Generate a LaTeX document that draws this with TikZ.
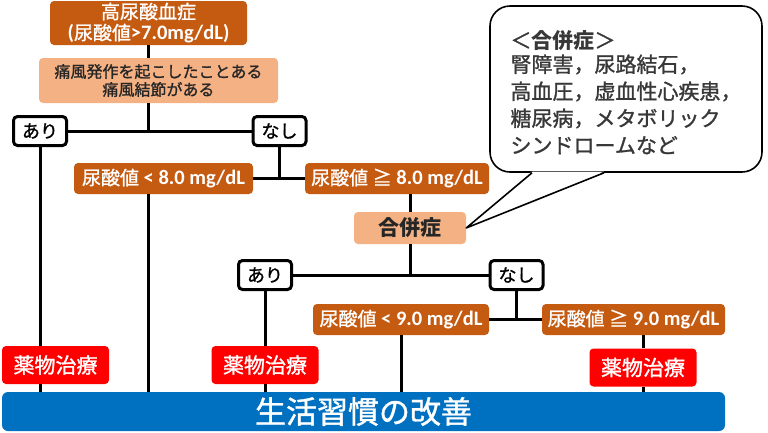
\documentclass[tikz,border=0pt]{standalone}
\usepackage{fontspec}
\setmainfont{Noto Sans CJK JP}
\newfontfamily\semi{Noto Sans CJK JP}[FakeBold=1.2]
\newfontfamily\lat{Carlito}[Scale=1.08]
\definecolor{uricdark}{HTML}{C55A11}
\definecolor{uriclight}{HTML}{F4B183}
\definecolor{medred}{HTML}{FF0000}
\definecolor{lifeblue}{HTML}{0070C0}

\begin{document}
\begin{tikzpicture}[x=1pt,y=-1pt]
	\tikzstyle{every node}=[font=\fontsize{19}{21}\selectfont\semi, inner sep=0pt, align=center, rounded corners=4pt]
	\tikzstyle{darkbox}=[fill=uricdark, text=white, minimum height=31pt]
	\tikzstyle{lightbox}=[fill=uriclight, text=black!85]
	\tikzstyle{yesno}=[draw, line width=3pt, fill=white, minimum width=53pt, minimum height=29pt, font=\fontsize{18}{20}\selectfont\semi]
	\tikzstyle{medbox}=[fill=medred, text=white, minimum width=107pt, minimum height=38pt, font=\fontsize{21}{23}\selectfont\semi]
	\tikzstyle{wire}=[line width=3pt]
	\useasboundingbox (0,0) rectangle (768,432); % the whole picture, y runs downwards

	% first question
	\node[darkbox, minimum width=197pt, minimum height=44pt] (top) at (148.5,23) {高尿酸血症\\{\lat\bfseries(}尿酸値{\lat\bfseries>7.0mg/dL)}};
	\node[lightbox, minimum width=239pt, minimum height=45pt, font=\fontsize{16}{18}\selectfont\semi] (gout) at (158.5,80.5) {痛風発作を起こしたことある\\痛風結節がある};
	\node[yesno] (ari1) at (40,131) {あり};
	\node[yesno] (nashi1) at (279.5,131) {なし};
	\node[darkbox, minimum width=179pt] (lt8) at (163.5,178.5) {尿酸値{\lat\bfseries\ < 8.0 mg/dL}};
	\node[darkbox, minimum width=184pt] (ge8) at (397,178.5) {尿酸値{\lat\ }≧{\lat\bfseries\ 8.0 mg/dL}};

	% second question
	\node[lightbox, minimum width=112pt, minimum height=32pt, font=\fontsize{21}{23}\selectfont\bfseries] (gappei) at (410,228) {合併症};
	\node[yesno] (ari2) at (265,275) {あり};
	\node[yesno] (nashi2) at (516.5,275) {なし};
	\node[darkbox, minimum width=176pt] (lt9) at (401,319.5) {尿酸値{\lat\bfseries\ < 9.0 mg/dL}};
	\node[darkbox, minimum width=183pt] (ge9) at (633.5,319.5) {尿酸値{\lat\ }≧{\lat\bfseries\ 9.0 mg/dL}};

	% treatments
	\node[medbox] (med1) at (55.5,365) {薬物治療};
	\node[medbox] (med2) at (265,365) {薬物治療};
	\node[medbox] (med3) at (643,367.5) {薬物治療};
	\node[fill=lifeblue, text=white, minimum width=723pt, minimum height=39pt, rounded corners=6pt, font=\fontsize{31}{33}\selectfont\semi] (life) at (363.5,411.5) {生活習慣の改善};

	% speech bubble
	\node[draw, line width=1.6pt, fill=white, rounded corners=20pt, minimum width=272pt, minimum height=166pt, align=left, text=black!78, font=\fontsize{21}{27}\selectfont\semi] (note) at (626,89) {\rule{0pt}{21.5pt}\raisebox{-3pt}{＜{\normalfont\fontsize{21}{27}\selectfont\bfseries 合併症}＞}\\腎障害，尿路結石，\\高血圧，虚血性心疾患，\\糖尿病，メタボリック\\シンドロームなど};
	\fill[white] ([xshift=-94pt,yshift=1.2pt]note.south) -- (gappei.east) -- ([xshift=-22pt,yshift=1.2pt]note.south) -- cycle;
	\draw[line width=1.6pt, line join=round] ([xshift=-94pt]note.south) -- (gappei.east) -- ([xshift=-22pt]note.south);

	% connectors
	\draw[wire] (top.south) -- (top.south |- gout.north);
	\draw[wire] (top.south |- gout.south) -- (top.south |- ari1.east);
	\draw[wire] (ari1.east) -- (nashi1.west);
	\draw[wire] (ari1.south) -- (ari1.south |- med1.north);
	\draw[wire] (ari1.south |- med1.south) -- (ari1.south |- life.north);
	\draw[wire] (nashi1.south) -- (nashi1.south |- lt8.east);
	\draw[wire] (lt8.east) -- (ge8.west);
	\draw[wire] (top.south |- lt8.south) -- (top.south |- life.north);
	\draw[wire] (gappei.north |- ge8.south) -- (gappei.north);
	\draw[wire] (gappei.south) -- (gappei.south |- ari2.east);
	\draw[wire] (ari2.east) -- (nashi2.west);
	\draw[wire] (ari2.south) -- (med2.north);
	\draw[wire] (med2.south) -- (med2.south |- life.north);
	\draw[wire] (nashi2.south) -- (nashi2.south |- lt9.east);
	\draw[wire] (lt9.east) -- (ge9.west);
	\draw[wire] (lt9.south) -- (lt9.south |- life.north);
	\draw[wire] (med3.north |- ge9.south) -- (med3.north);
	\draw[wire] (med3.south) -- (med3.south |- life.north);
\end{tikzpicture}
\end{document}
